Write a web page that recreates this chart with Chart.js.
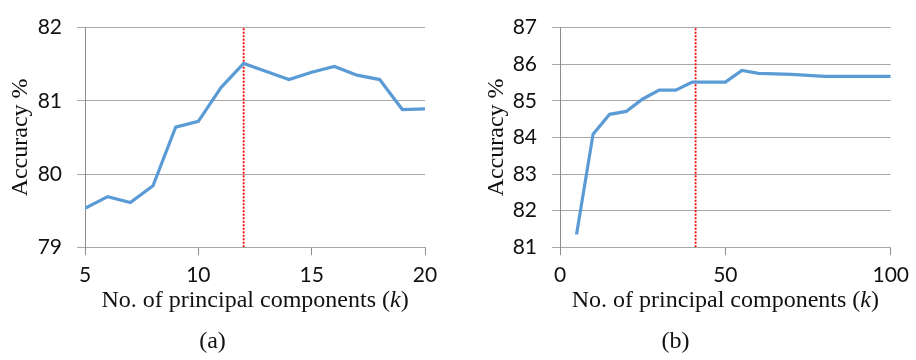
<!DOCTYPE html>
<html>
<head>
<meta charset="utf-8">
<script src="https://cdn.jsdelivr.net/npm/chart.js"></script>
<style>
  body { margin: 0; background: #fff; }
  .wrap { position: absolute; top: 0; width: 458px; height: 360px; }
</style>
</head>
<body>
<div class="wrap" style="left:0"><canvas id="chartA"></canvas></div>
<div class="wrap" style="left:458px"><canvas id="chartB"></canvas></div>
<script>
// (a) k = 5..20
const kA = [5, 6, 7, 8, 9, 10, 11, 12, 13, 14, 15, 16, 17, 18, 19, 20];
const accA = [79.53, 79.69, 79.61, 79.84, 80.64, 80.72, 81.18, 81.51, 81.40, 81.29, 81.39, 81.47, 81.35, 81.29, 80.88, 80.89];
// (b) k = 5..100
const kB = [5, 10, 15, 20, 25, 30, 35, 40, 45, 50, 55, 60, 70, 80, 90, 100];
const accB = [81.35, 84.09, 84.63, 84.71, 85.05, 85.29, 85.29, 85.51, 85.51, 85.51, 85.83, 85.75, 85.72, 85.67, 85.67, 85.67];
// chosen k (red dotted line)
const bestK = [12, 41];
const yRangeA = [79, 82];
const yRangeB = [81, 87];
const xRangeA = [5, 20];
const xRangeB = [0, 100];
// x title is drawn in parts so the k can be italic
const xTitleParts = ['No. of principal components (', 'k', ')'];
const yTitle = 'Accuracy %';
const captions = ['(a)', '(b)'];

const tickFont = { family: 'Lato', size: 21 };
const serif = { family: 'Liberation Serif', size: 24, weight: 'normal' };

// draws the x axis title with italic k where Chart.js would put it
const italicTitle = {
  id: 'italicTitle',
  afterDraw(chart) {
    const s = chart.scales.x;
    const c = chart.ctx;
    const y = s.bottom - 10 - 24 * 1.2 / 2;
    const fonts = ['24px "Liberation Serif"', 'italic 24px "Liberation Serif"', '24px "Liberation Serif"'];
    let total = 0;
    const widths = xTitleParts.map((t, i) => { c.font = fonts[i]; const w = c.measureText(t).width; total += w; return w; });
    let x = (s.left + s.right) / 2 - total / 2;
    c.save();
    c.fillStyle = '#111';
    c.textBaseline = 'middle';
    c.textAlign = 'left';
    xTitleParts.forEach((t, i) => { c.font = fonts[i]; c.fillText(t, x, y); x += widths[i]; });
    c.restore();
  }
};

function makeChart(id, ks, acc, best, xr, yr, xStep, caption, yAxisWidth, padRight, yTitlePad) {
  const ctx = document.getElementById(id).getContext('2d');
  return new Chart(ctx, {
    type: 'line',
    data: {
      datasets: [
        {
          data: ks.map((k, i) => ({ x: k, y: acc[i] })),
          borderColor: '#5B9BD5',
          borderWidth: 3.2,
          pointRadius: 0,
          tension: 0
        },
        {
          data: [{ x: best, y: yr[0] }, { x: best, y: yr[1] }],
          borderColor: '#ff0000',
          borderWidth: 1.8,
          borderDash: [2, 1.5],
          pointRadius: 0
        }
      ]
    },
    plugins: [italicTitle],
    options: {
      responsive: true,
      maintainAspectRatio: false,
      animation: false,
      layout: { padding: { left: 0, right: padRight, top: 11, bottom: 4 } },
      plugins: {
        legend: { display: false },
        tooltip: { enabled: false },
        title: {
          display: true,
          position: 'bottom',
          text: caption,
          color: '#111',
          font: serif,
          padding: { top: 2, bottom: 0 }
        }
      },
      scales: {
        x: {
          type: 'linear',
          min: xr[0],
          max: xr[1],
          ticks: { stepSize: xStep, color: '#111', font: tickFont, padding: 7, maxRotation: 0 },
          grid: { drawOnChartArea: false, drawTicks: true, tickLength: 8, color: '#8c8c8c' },
          border: { display: true, color: '#a8a8a8' },
          title: { display: true, text: xTitleParts.join(''), color: 'rgba(0,0,0,0)', font: serif, padding: { top: 0, bottom: 10 } },
          afterFit: s => { s.height = 78; }
        },
        y: {
          min: yr[0],
          max: yr[1],
          ticks: { stepSize: 1, color: '#111', font: tickFont, padding: 15 },
          grid: { color: '#a8a8a8', tickLength: 8 },
          border: { display: true, color: '#8c8c8c' },
          title: { display: true, text: yTitle, color: '#111', font: serif, padding: { top: yTitlePad, bottom: 0 } },
          afterFit: s => { s.width = yAxisWidth; }
        }
      }
    }
  });
}

makeChart('chartA', kA, accA, bestK[0], xRangeA, yRangeA, 5, captions[0], 85, 33, 6);
makeChart('chartB', kB, accB, bestK[1], xRangeB, yRangeB, 50, captions[1], 102, 23, 24);
</script>
</body>
</html>
